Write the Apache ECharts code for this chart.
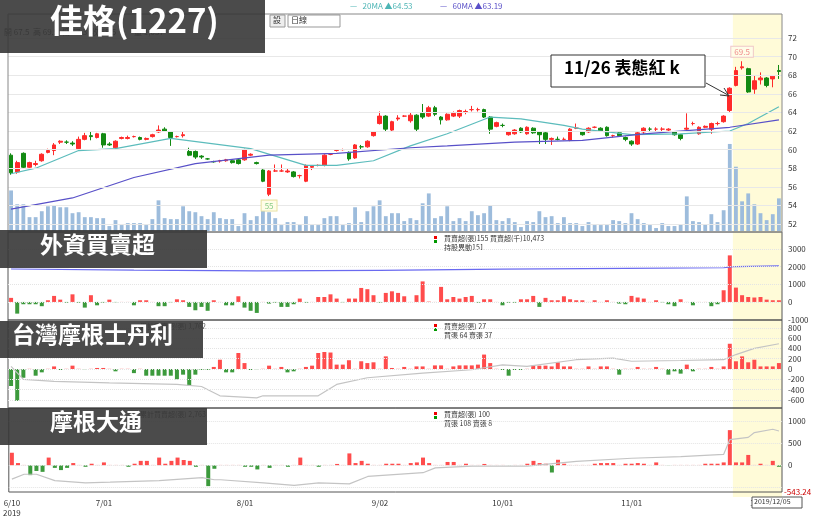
<!DOCTYPE html>
<html><head><meta charset="utf-8">
<script src="https://cdn.jsdelivr.net/npm/echarts@6/dist/echarts.min.js"></script>
<style>html,body{margin:0;padding:0;background:#fff}#c{width:820px;height:518px}</style>
</head><body><div id="c"></div>
<script>
// ---------- data ----------
const holidays = ['2019-09-13','2019-10-10','2019-10-11'];
const startDate = '2019-06-10', endDate = '2019-12-05';
// [open, close, low, high]
const ohlc = [
[59.4,57.5,57.3,59.6],[57.6,58.6,57.4,58.8],[59.6,58.1,58.0,59.7],[58.1,58.6,58.0,58.7],[58.4,58.5,58.2,58.8],
[58.8,59.5,58.7,59.6],[59.7,59.9,59.6,60.1],[59.9,60.5,59.4,60.7],[60.8,60.9,60.6,61.0],[60.8,60.8,60.6,61.0],
[60.7,60.6,60.4,60.9],[60.1,61.1,60.0,61.4],[61.1,61.5,61.0,61.8],[61.5,61.4,61.0,61.9],[61.3,61.7,61.2,61.8],
[61.7,60.5,60.2,61.8],[60.6,60.5,60.4,60.8],[60.2,60.9,60.1,61.0],[61.2,61.3,61.1,61.4],[61.2,61.3,61.1,61.5],
[61.4,61.4,61.3,61.5],[61.3,61.1,61.0,61.4],[61.1,61.2,61.0,61.3],[61.4,61.6,61.3,61.7],[61.9,62.1,61.8,62.6],
[62.2,62.0,61.9,62.4],[61.9,61.3,60.4,62.0],[61.4,61.4,61.3,61.5],[61.5,61.6,61.3,61.9],[59.8,59.4,59.3,60.2],
[59.8,59.2,59.0,59.9],[59.3,59.2,59.0,59.4],[59.0,59.0,58.9,59.1],[58.7,58.7,58.6,58.8],[58.8,58.8,58.6,58.9],
[58.8,58.9,58.7,59.0],[58.8,58.6,58.5,58.9],[58.9,58.5,58.4,59.0],[58.9,60.0,58.8,60.1],[59.4,59.5,59.3,59.6],
[58.6,58.5,58.4,58.7],[57.8,56.6,56.5,57.9],[55.2,57.7,55.0,57.8],[57.7,57.7,57.6,58.4],[57.7,57.7,57.6,58.4],
[57.6,57.7,57.5,58.0],[57.6,57.1,57.0,57.7],[57.2,57.2,56.9,57.3],[56.6,58.3,56.5,58.4],[58.1,58.2,57.8,58.3],
[58.3,58.3,58.2,58.4],[58.3,59.4,58.2,59.5],[59.5,59.5,59.4,59.6],[59.9,59.9,59.8,60.0],[60.0,60.0,59.9,60.1],
[59.7,59.0,58.8,59.8],[59.1,60.5,59.0,60.6],[60.3,60.3,60.0,60.5],[60.3,60.9,60.2,61.0],[61.5,61.9,61.4,62.0],
[62.8,63.6,62.7,64.1],[63.6,62.2,62.0,63.7],[62.1,63.0,62.0,63.1],[63.3,63.4,63.1,63.7],[63.6,63.6,63.5,63.7],
[63.1,63.7,62.9,64.0],[63.7,62.2,62.0,63.8],[63.9,63.5,63.3,64.9],[63.6,64.5,63.5,64.7],[64.5,63.8,63.6,64.7],
[63.5,63.2,62.7,63.6],[63.2,63.8,63.1,63.9],[63.6,63.9,63.5,64.1],[63.6,64.2,63.4,64.3],[64.0,64.1,63.8,64.3],
[64.3,64.3,64.1,64.7],[64.3,64.3,64.1,64.5],[64.3,63.5,63.4,64.4],[63.5,62.2,61.7,63.6],[62.5,62.9,62.4,63.0],
[62.6,62.6,62.4,62.8],[61.6,61.9,61.5,62.0],[61.7,62.1,61.6,62.2],[62.3,61.9,61.8,62.4],[61.7,62.4,61.6,62.5],
[62.3,61.8,61.7,62.4],[61.9,61.6,60.6,62.0],[61.8,61.1,60.6,61.9],[61.1,61.2,60.5,61.3],[61.1,61.1,61.0,61.4],
[61.1,61.1,61.0,61.3],[61.0,62.2,60.9,62.3],[62.3,62.3,62.2,62.8],[61.9,61.6,61.5,62.0],[61.9,62.3,61.8,62.4],
[62.4,62.4,62.3,62.5],[62.3,62.0,61.9,62.4],[62.4,61.5,61.4,62.5],[61.5,61.5,61.3,61.6],[61.8,61.5,61.4,61.9],
[61.3,61.1,60.9,61.4],[60.9,60.6,60.4,61.0],[60.6,61.8,60.5,61.9],[61.9,62.3,61.6,62.4],[62.2,62.2,62.0,62.4],
[62.2,62.2,61.9,62.4],[62.2,62.2,61.8,62.4],[62.1,62.2,61.9,62.3],[61.9,61.6,61.5,62.0],[61.6,61.2,61.0,61.7],
[62.2,62.3,62.1,63.9],[62.8,62.8,62.6,63.0],[61.7,62.4,61.6,62.5],[62.4,62.5,62.3,62.6],[62.2,62.8,61.7,62.9],
[62.8,62.8,62.6,63.0],[63.0,63.6,62.9,63.7],[64.2,66.6,64.0,66.7],[66.9,68.5,66.8,68.9],[68.8,68.9,68.6,69.5],
[68.7,66.2,66.1,68.8],[66.5,67.4,66.0,68.0],[67.5,67.7,67.0,68.3],[67.7,66.9,66.7,67.8],[67.6,67.9,66.7,68.0],
[68.5,68.4,67.6,69.1]
];
const volume = [41,27,27,14,14,20,25,26,24,24,18,19,14,14,13,13,5,11,6,8,8,8,6,12,31,13,12,12,25,20,19,15,12,19,13,12,12,5,18,11,15,22,19,13,6,9,9,6,15,6,6,13,15,15,6,8,24,9,20,25,31,15,18,18,10,
13,11,28,38,13,15,25,10,13,10,20,16,18,26,11,10,13,9,4,10,9,20,14,15,8,14,8,8,5,9,6,6,6,11,10,8,18,12,8,6,3,8,5,5,7,35,10,9,7,17,9,21,88,65,30,38,27,18,11,17,33];
const ma20 = [[0,57.4],[4,58.0],[11,59.9],[17,60.1],[26,61.2],[39,60.1],[48,58.3],[53,58.3],[59,58.8],[65,60.4],[71,61.7],[78,63.5],[83,63.3],[90,62.6],[93,62.2],[101,61.6],[109,61.7],[117,62.0],[120,62.8],[125,64.6]];
const ma60 = [[0,53.6],[10,54.8],[20,57.0],[30,58.5],[42,59.4],[53,59.6],[65,60.2],[71,60.4],[82,60.8],[93,61.0],[103,61.7],[117,62.4],[125,63.2]];
const foreign = [230,-660,-130,-130,-130,-240,95,340,130,-40,430,-40,-320,380,-190,-40,130,-20,10,10,-190,95,95,10,-240,-240,-20,150,95,-280,
-470,-280,-500,95,10,-190,-190,320,-320,-500,-620,10,-95,-40,-280,-280,-130,190,-40,10,280,280,430,190,-20,190,190,790,720,380,
-40,510,600,510,320,10,380,1160,20,10,850,150,280,190,280,340,-40,150,150,10,-190,-40,-40,150,150,340,-280,230,95,95,
320,150,95,95,10,95,10,95,10,-95,-130,340,250,190,10,95,-20,-130,-240,150,10,-190,10,10,-240,-130,660,2630,810,380,
280,250,280,130,95,95];
const foreignHold = [[0,1860],[20,1800],[40,1750],[60,1780],[80,1850],[100,1900],[116,1930],[118,2000],[125,2040]];
const ms = [-330,-620,-170,10,-130,-65,10,50,-20,10,65,10,-10,10,20,20,10,-45,10,10,-80,10,-130,-130,-130,-130,-130,-200,-110,-320,
-110,-20,-20,40,180,-65,-65,310,115,-20,-10,10,65,10,40,-65,-45,10,40,65,310,330,320,85,85,170,10,150,115,130,
10,245,20,10,40,10,50,50,10,70,70,10,50,70,70,70,85,280,115,10,-20,-130,-20,-20,10,65,65,65,50,130,
50,50,10,10,50,10,50,50,10,-110,10,10,40,10,10,40,10,-110,-45,-90,85,-45,10,10,40,10,50,490,150,245,
130,180,50,50,50,115];
const msCum = [[0,50],[2,-200],[7,-240],[16,-270],[27,-300],[31,-340],[34,-520],[40,-560],[41,-520],[50,-520],[53,-300],[58,-170],[67,-80],[75,-15],[80,80],[84,50],[92,180],[98,210],[101,150],[109,165],[116,180],[118,280],[121,400],[125,490]];
const jp = [285,50,10,-225,-130,-150,175,-60,-110,-60,50,10,-35,35,10,65,10,10,10,-35,35,100,100,10,175,35,100,175,120,100,
-35,10,-475,-80,10,10,10,10,-35,-35,-95,10,-60,10,10,-35,10,175,10,10,-35,10,10,30,10,270,50,100,35,10,
10,35,35,35,10,50,65,175,50,10,10,75,75,10,35,10,10,30,10,10,10,-10,10,10,35,100,50,35,-165,125,
35,10,10,10,10,35,50,50,50,10,35,35,50,35,10,65,10,-10,10,10,10,10,10,35,35,35,65,800,65,65,
235,10,35,10,100,-35];
const jpCum = [[0,-315],[2,-205],[4,-205],[7,-350],[12,-400],[16,-385],[24,-350],[31,-280],[33,-330],[34,-330],[41,-400],[46,-460],[50,-400],[55,-425],[58,-255],[67,-170],[69,-60],[75,-20],[84,-20],[89,50],[92,90],[101,160],[109,195],[116,250],[117,585],[120,635],[121,745],[124,820],[125,780]];
const priceTicks = [52,54,56,58,60,62,64,66,68,70,72];
const fTicks = [-1000,0,1000,2000,3000];
const msTicks = [-600,-400,-200,0,200,400,600,800];
const jpTicks = [0,500,1000];

// ---------- dates ----------
const dates = [];
for (let d = new Date(startDate+'T00:00:00Z'); d <= new Date(endDate+'T00:00:00Z'); d.setUTCDate(d.getUTCDate()+1)) {
  const wd = d.getUTCDay(); const s = d.toISOString().slice(0,10);
  if (wd === 0 || wd === 6 || holidays.includes(s)) continue;
  dates.push(s);
}
const N = dates.length;
const hiStart = 118;

const FONT = '"Noto Sans CJK TC","Noto Sans",sans-serif';
const RED = '#ff2a2a', DGREEN = '#128a12';
const barColor = p => p.value >= 0 ? (p.value <= 10 ? '#ffc8c8' : '#ff4c4c') : (p.value >= -10 ? '#b8e0b8' : '#3c9a3c');

const L = 8, R = 38, W = 820 - L - R;
const grids = [
  {left:L, right:R, top:19.4, height:223.2, show:false},
  {left:L, right:R, top:140, height:91, show:false},
  {left:L, right:R, top:232, height:88, show:true, borderColor:'#555', borderWidth:1},
  {left:L, right:R, top:320, height:88, show:true, borderColor:'#555', borderWidth:1},
  {left:L, right:R, top:408, height:89, show:true, borderColor:'#555', borderWidth:1}
];
const xAxes = grids.map((g,i)=>({
  type:'category', gridIndex:i, data:dates, boundaryGap:true,
  axisLine:{show:false}, axisTick:{show:false},
  axisLabel:{show:i===4, interval:(idx)=> idx===0 || dates[idx].slice(5,7)!==dates[idx-1].slice(5,7),
    formatter:(v,idx)=>{const m=+v.slice(5,7), dd=v.slice(8,10); return idx===0? m+'/'+dd+'\n'+v.slice(0,4) : m+'/'+dd;},
    fontSize:8, color:'#333', fontFamily:FONT, margin:6, lineHeight:10},
  splitLine:{show:false}
}));
const yRanges = [[50,74],null,[-1020,3950],[-757,951],[-609,1304]];
function yAx(gi,ticks){
  return {type:'value', gridIndex:gi, position:'right', min:yRanges[gi][0], max:yRanges[gi][1],
    axisLine:{show:false}, axisTick:{show:false}, splitLine:{show:false},
    axisLabel:{customValues:ticks, formatter:v=>String(v), fontSize:8, color:'#333', margin:6, fontFamily:FONT}};
}
const yAxes = [
  yAx(0,priceTicks),
  {type:'value', gridIndex:1, min:0, max:92, show:false},
  yAx(2,fTicks),
  yAx(3,msTicks),
  yAx(4,jpTicks)
];
const gridLine = v => ({yAxis:v});
const subGrid = ticks => ({silent:true, symbol:'none', label:{show:false}, lineStyle:{color:'#e4e4e4', type:'dotted', width:1}, data:ticks.map(gridLine)});

const graphics = [
    {type:'rect', shape:{x:L, y:14, width:W, height:218}, style:{fill:'none', stroke:'#888', lineWidth:1}, silent:true, z:50},
    {type:'text', left:350, top:2, style:{text:'—   20MA ▲64.53', fill:'#4db5b5', font:'8px '+FONT}},
    {type:'text', left:440, top:2, style:{text:'—   60MA ▲63.19', fill:'#5a50c8', font:'8px '+FONT}},
    {type:'rect', shape:{x:270, y:15, width:15, height:12}, style:{fill:'#eee', stroke:'#999'}},
    {type:'text', left:273, top:16, style:{text:'設', fill:'#333', font:'8px '+FONT}},
    {type:'rect', shape:{x:288, y:15, width:52, height:12}, style:{fill:'#fff', stroke:'#999'}},
    {type:'text', left:291, top:16, style:{text:'日線', fill:'#333', font:'8px '+FONT}},
    {type:'text', left:4, top:28, style:{text:'開 67.5  高 69.5  低 67.3  收 68.5          量 1,037', fill:'#444', font:'8px '+FONT}},
    {type:'rect', shape:{x:434, y:236, width:3, height:3}, style:{fill:'#e00'}},
    {type:'rect', shape:{x:434, y:240, width:3, height:3}, style:{fill:'#090'}},
    {type:'text', left:444, top:234, style:{text:'買賣超(張)155 買賣超(千)10,473\n持股異動151', fill:'#333', font:'7px '+FONT, lineHeight:9}},
    {type:'rect', shape:{x:434, y:324, width:3, height:3}, style:{fill:'#e00'}},
    {type:'rect', shape:{x:434, y:328, width:3, height:3}, style:{fill:'#090'}},
    {type:'text', left:444, top:322, style:{text:'買賣超(張) 27\n買張 64 賣張 37', fill:'#333', font:'7px '+FONT, lineHeight:9}},
    {type:'rect', shape:{x:434, y:412, width:3, height:3}, style:{fill:'#e00'}},
    {type:'rect', shape:{x:434, y:416, width:3, height:3}, style:{fill:'#090'}},
    {type:'text', left:444, top:410, style:{text:'買賣超(張) 100\n買張 108 賣張 8', fill:'#333', font:'7px '+FONT, lineHeight:9}},
    {type:'text', left:140, top:323, style:{text:'累計買賣超(張) 1,762', fill:'#555', font:'7px '+FONT}},
    {type:'text', left:140, top:411, style:{text:'累計買賣超(張) 2,763', fill:'#555', font:'7px '+FONT}},
    {type:'text', left:784, top:488, style:{text:'-543.24', fill:'#c00', font:'8px '+FONT}},
    {type:'rect', shape:{x:752, y:497, width:50, height:11}, style:{fill:'#fff', stroke:'#555'}, z:60},
    {type:'text', left:754, top:498, z:61, style:{text:'2019/12/05', fill:'#333', font:'7px '+FONT}},
    {type:'rect', shape:{x:0, y:0, width:265, height:53}, style:{fill:'rgba(55,55,55,0.9)'}, z:80},
    {type:'text', left:50, top:4, z:81, style:{text:'佳格(1227)', fill:'#fff', font:'bold 33px '+FONT}},
    {type:'rect', shape:{x:0, y:230, width:207, height:38}, style:{fill:'rgba(55,55,55,0.9)'}, z:80},
    {type:'text', left:40, top:233, z:81, style:{text:'外資買賣超', fill:'#fff', font:'bold 23px '+FONT}},
    {type:'rect', shape:{x:0, y:321, width:203, height:37}, style:{fill:'rgba(55,55,55,0.9)'}, z:80},
    {type:'text', left:12, top:323, z:81, style:{text:'台灣摩根士丹利', fill:'#fff', font:'bold 23px '+FONT}},
    {type:'rect', shape:{x:0, y:408, width:207, height:37}, style:{fill:'rgba(55,55,55,0.9)'}, z:80},
    {type:'text', left:50, top:410, z:81, style:{text:'摩根大通', fill:'#fff', font:'bold 23px '+FONT}},
    {type:'rect', shape:{x:551, y:55, width:154, height:32}, style:{fill:'#fff', stroke:'#333', lineWidth:1}, z:70},
    {type:'text', left:564, top:59, z:71, style:{text:'11/26 表態紅 k', fill:'#000', font:'bold 17px '+FONT}},
    {type:'line', shape:{x1:706, y1:83, x2:728, y2:95}, style:{stroke:'#333', lineWidth:1}, z:70},
    {type:'polyline', shape:{points:[[720,95],[729,96],[724,88]]}, style:{stroke:'#333', fill:'none', lineWidth:1}, z:70}
];

const option = {
  animation:false,
  textStyle:{fontFamily:FONT},
  grid:grids, xAxis:xAxes, yAxis:yAxes,
  series:[
    {type:'bar', xAxisIndex:1, yAxisIndex:1, data:volume, barWidth:'62%', itemStyle:{color:'#9dbcdc'}, z:1},
    {type:'candlestick', xAxisIndex:0, yAxisIndex:0, data:ohlc, barWidth:'70%',
      itemStyle:{color:RED, color0:DGREEN, borderColor:RED, borderColor0:DGREEN, borderWidth:1},
      markLine:{silent:true, symbol:'none', label:{show:false}, lineStyle:{color:'#e8e8e8', type:'solid', width:1}, data:priceTicks.map(gridLine)},
      markPoint:{symbol:'rect', symbolSize:1, itemStyle:{color:'transparent'},
        data:[
          {coord:[dates[42],55.0], value:'55', label:{show:true, formatter:'55', position:'bottom', distance:4, fontSize:8, color:'#8c8', backgroundColor:'#fffde8', borderColor:'#e6e0a0', borderWidth:1, padding:[1,3]}},
          {coord:[dates[119],69.5], value:'69.5', label:{show:true, formatter:'69.5', position:'top', distance:4, fontSize:8, color:'#f08a8a', backgroundColor:'#fffde8', borderColor:'#f0c8c8', borderWidth:1, padding:[1,3]}}
        ]}, z:3},
    {type:'line', xAxisIndex:0, yAxisIndex:0, data:ma20, symbol:'none', lineStyle:{color:'#5cbcbc', width:1.2}, z:4},
    {type:'line', xAxisIndex:0, yAxisIndex:0, data:ma60, symbol:'none', lineStyle:{color:'#5850c8', width:1.2}, z:4},
    {type:'bar', xAxisIndex:2, yAxisIndex:2, data:foreign, barWidth:'65%', itemStyle:{color:barColor}, markLine:subGrid([0,1000,2000,3000])},
    {type:'line', xAxisIndex:2, yAxisIndex:2, data:foreignHold, symbol:'none', lineStyle:{color:'#6a6af0', width:1.2}},
    {type:'bar', xAxisIndex:3, yAxisIndex:3, data:ms, barWidth:'65%', itemStyle:{color:barColor}, markLine:subGrid(msTicks)},
    {type:'line', xAxisIndex:3, yAxisIndex:3, data:msCum, symbol:'none', lineStyle:{color:'#c4c4c4', width:1.2}},
    {type:'bar', xAxisIndex:4, yAxisIndex:4, data:jp, barWidth:'65%', itemStyle:{color:barColor}, markLine:subGrid([-500,0,500,1000])},
    {type:'line', xAxisIndex:4, yAxisIndex:4, data:jpCum, symbol:'none', lineStyle:{color:'#c4c4c4', width:1.2}}
  ],
  graphic:graphics
};
const chart = echarts.init(document.getElementById('c'));
chart.setOption(option);
// highlight band for the last days, positioned through the category scale
const c0 = chart.convertToPixel({xAxisIndex:0}, dates[hiStart]);
const c1 = chart.convertToPixel({xAxisIndex:0}, dates[hiStart+1]);
const band = c1 - c0;
const x0 = c0 - band/2, x1 = L + W;
const hlRects = [[14,218],[232,88],[320,88],[408,89]].map(([y,h])=>({type:'rect', z:-1, silent:true,
  shape:{x:x0, y:y, width:x1-x0, height:h}, style:{fill:'#fffbd8'}}));
chart.setOption({graphic:graphics.concat(hlRects)});
</script></body></html>
